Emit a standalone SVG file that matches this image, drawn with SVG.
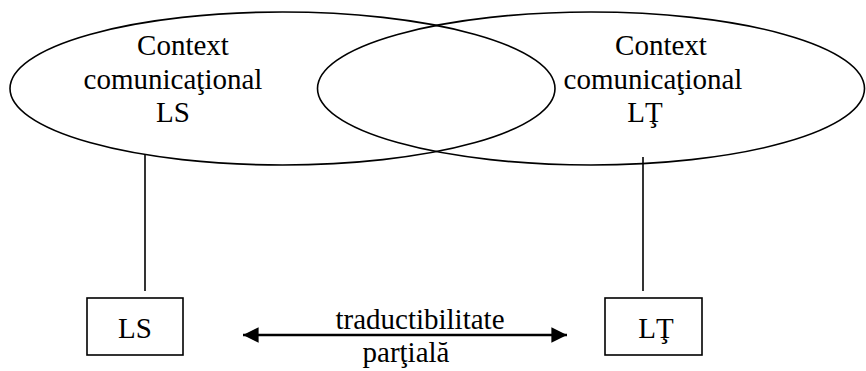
<svg xmlns="http://www.w3.org/2000/svg" width="866" height="371" viewBox="0 0 866 371">
<defs>
<style>
.sh{fill:none;stroke:#000;stroke-width:1.6}
.ln{fill:none;stroke:#000;stroke-width:1.6}
.ar{fill:none;stroke:#000;stroke-width:2.4}
.t{font-family:"Liberation Serif","Times New Roman",serif;font-size:29px;fill:#000;text-anchor:middle}
</style>
<marker id="ah" viewBox="0 0 10 10" refX="10" refY="5" markerWidth="6.5" markerHeight="6.5" markerUnits="strokeWidth" orient="auto-start-reverse">
<path d="M0,0 L10,5 L0,10 z" fill="#000"/>
</marker>
</defs>
<rect width="866" height="371" fill="#fff"/>
<g id="ctx-ls">
<ellipse class="sh" cx="282.5" cy="88.5" rx="272.5" ry="76.5"/>
<text class="t" x="183" y="55">Context</text>
<text class="t" x="173" y="89">comunicaţional</text>
<text class="t" x="173" y="122">LS</text>
</g>
<g id="ctx-lt">
<ellipse class="sh" cx="591" cy="88.5" rx="273.5" ry="76.5"/>
<text class="t" x="661" y="55">Context</text>
<text class="t" x="653" y="89">comunicaţional</text>
<text class="t" x="645" y="122">LŢ</text>
</g>
<g id="ls">
<rect class="sh" x="87" y="298" width="96" height="57"/>
<text class="t" x="135" y="338">LS</text>
</g>
<g id="lt">
<rect class="sh" x="605" y="298" width="97" height="57"/>
<text class="t" x="656" y="338">LŢ</text>
</g>
<g id="connectors">
<line class="ln" x1="145" y1="154" x2="145" y2="291"/>
<line class="ln" x1="643" y1="157" x2="643" y2="291"/>
<line class="ar" x1="243" y1="335" x2="567" y2="335" marker-start="url(#ah)" marker-end="url(#ah)"/>
<text class="t" x="420" y="329">traductibilitate</text>
<text class="t" x="406" y="362">parţială</text>
</g>
</svg>
